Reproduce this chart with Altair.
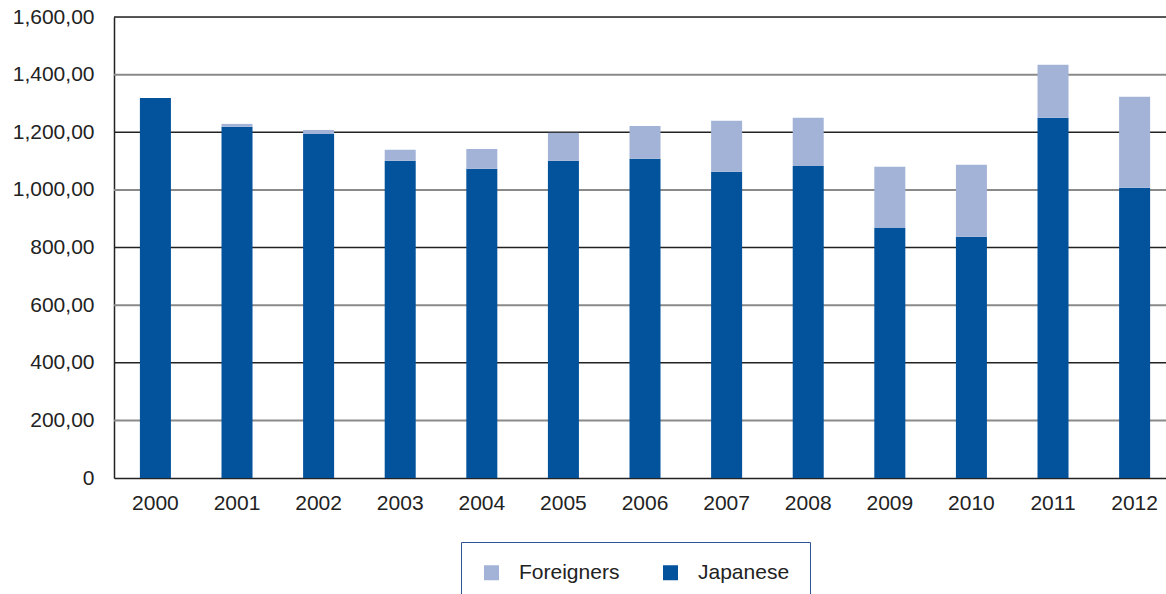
import altair as alt
import pandas as pd

years = ["2000", "2001", "2002", "2003", "2004", "2005", "2006",
         "2007", "2008", "2009", "2010", "2011", "2012"]
japanese = [1319, 1219, 1194, 1101, 1073, 1101, 1108, 1063, 1083, 868, 837, 1250, 1007]
foreigners = [0, 10, 14, 38, 69, 97, 114, 177, 167, 212, 250, 184, 316]
series = ["Foreigners", "Japanese"]
colors = ["#A3B3D7", "#02529C"]
grid_gray = [200, 600, 1000, 1400]
grid_dark = [400, 800, 1200, 1600]
y_ticks = [0, 200, 400, 600, 800, 1000, 1200, 1400, 1600]

rows = []
for i, y in enumerate(years):
    rows.append({"year": y, "series": "Japanese", "value": japanese[i], "ord": 0})
    rows.append({"year": y, "series": "Foreigners", "value": foreigners[i], "ord": 1})
df = pd.DataFrame(rows)

FONT = "Liberation Sans"

gray_rules = alt.Chart(pd.DataFrame({"v": grid_gray})).mark_rule(
    color="#8a8a8a", strokeWidth=2
).encode(y=alt.Y("v:Q", scale=alt.Scale(domain=[0, 1600])))

dark_rules = alt.Chart(pd.DataFrame({"v": grid_dark})).mark_rule(
    color="#222222", strokeWidth=1.3
).encode(y=alt.Y("v:Q", scale=alt.Scale(domain=[0, 1600])))

bars = alt.Chart(df).mark_bar().encode(
    x=alt.X("year:O", title=None,
            scale=alt.Scale(paddingInner=0.62, paddingOuter=0.256, align=0.62),
            axis=alt.Axis(labelAngle=0, ticks=False, labelPadding=14,
                          labelFontSize=21, labelColor="#222222",
                          domainColor="#222222", domainWidth=1.5, labelFont=FONT)),
    y=alt.Y("value:Q", stack="zero", title=None,
            scale=alt.Scale(domain=[0, 1600], nice=False),
            axis=alt.Axis(values=y_ticks, grid=False, ticks=False, labelPadding=20,
                          labelFontSize=21, labelColor="#222222", labelFont=FONT,
                          domainColor="#222222", domainWidth=1.5,
                          labelExpr="datum.value == 0 ? '0' : format(datum.value, ',') + ',00'")),
    color=alt.Color("series:N", scale=alt.Scale(domain=series, range=colors),
                    legend=alt.Legend(title=None, orient="none", legendX=347, legendY=525,
                                      direction="horizontal", symbolType="square",
                                      symbolSize=225, symbolStrokeWidth=0,
                                      symbolOpacity=1,
                                      labelFontSize=21, labelFont=FONT,
                                      labelColor="#222222", labelOffset=17,
                                      columnPadding=40, padding=20,
                                      strokeColor="#2B5597", fillColor="white")),
    order=alt.Order("ord:Q", sort="ascending"),
)

chart = alt.layer(gray_rules, dark_rules, bars).properties(
    width=1052, height=461,
    autosize=alt.AutoSizeParams(type="none"),
    padding={"left": 114, "top": 17, "right": 0, "bottom": 116},
).configure_view(stroke=None).configure(font=FONT)

chart.save("out.html", embed_options={"renderer": "svg", "actions": False})
